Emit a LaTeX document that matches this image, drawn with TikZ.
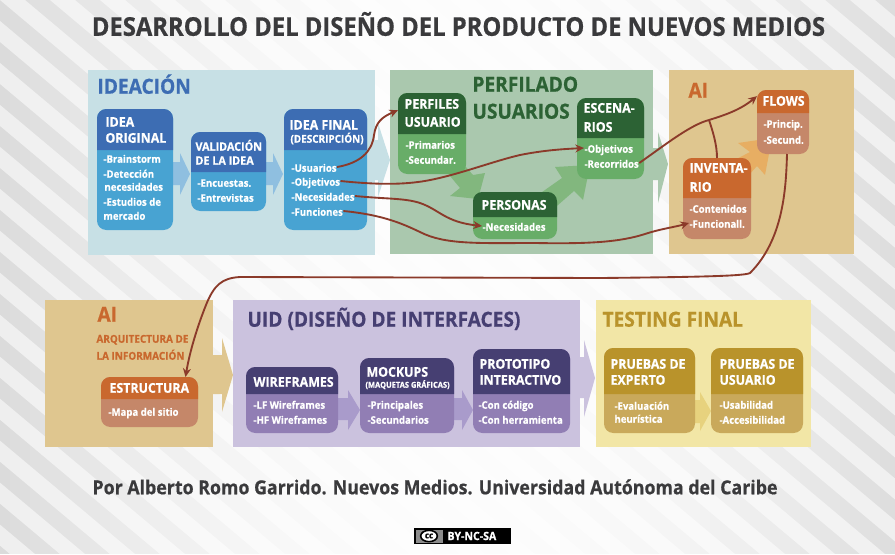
\documentclass[tikz,border=0pt]{standalone}
\usepackage{fontspec}
\setmainfont{Open Sans}[FakeStretch=0.92,BoldFeatures={FakeBold=0.6}]
\usetikzlibrary{arrows.meta,shapes.geometric}

\definecolor{ideaP}{RGB}{199,224,229}
\definecolor{ideaH}{RGB}{61,109,179}
\definecolor{ideaB}{RGB}{72,163,210}
\definecolor{ideaA}{RGB}{143,191,224}
\definecolor{perfP}{RGB}{170,200,174}
\definecolor{perfH}{RGB}{44,98,52}
\definecolor{perfB}{RGB}{104,173,104}
\definecolor{perfA}{RGB}{130,183,126}
\definecolor{aiP}{RGB}{223,198,143}
\definecolor{aiH}{RGB}{201,104,46}
\definecolor{aiB}{RGB}{197,135,105}
\definecolor{aiA}{RGB}{231,174,99}
\definecolor{uidP}{RGB}{203,194,222}
\definecolor{uidH}{RGB}{70,63,114}
\definecolor{uidB}{RGB}{145,126,180}
\definecolor{uidA}{RGB}{169,155,203}
\definecolor{testP}{RGB}{242,230,166}
\definecolor{testH}{RGB}{185,147,43}
\definecolor{testB}{RGB}{201,169,91}
\definecolor{testA}{RGB}{231,210,126}
\definecolor{linkcol}{RGB}{139,58,42}
\definecolor{inkcol}{RGB}{58,58,60}

\tikzset{every picture/.style={line width=0.75pt}}
\tikzset{
  bigtxt/.style={anchor=west,inner sep=0pt,text height=0.71em,text depth=0pt,font=\fontsize{15.6}{17}\selectfont\bfseries},
  headtxt/.style={anchor=west,inner sep=0pt,text height=0.71em,text depth=0pt,text=white,font=\fontsize{10.1}{12}\selectfont\bfseries},
  smalltxt/.style={anchor=west,inner sep=0pt,text height=0.71em,text depth=0pt,text=white,font=\fontsize{8.1}{10}\selectfont\bfseries},
  itemtxt/.style={anchor=west,inner sep=0pt,text height=0.71em,text depth=0pt,text=white,font=\fontsize{7.8}{9}\selectfont\bfseries},
  cardbody/.style={inner sep=0pt,outer sep=0pt,rounded corners=7pt},
  link/.style={draw=linkcol,line width=1.4pt,-{Stealth[length=6.5pt,width=6pt]}},
  linkplain/.style={draw=linkcol,line width=1.4pt}
}
% name, x, y, w, h, head h, colours
\newcommand{\card}[7]{%
  \node (#1) [cardbody,fill=#7B,minimum width=#4*0.75pt,minimum height=#5*0.75pt] at ({#2+#4/2},{#3+#5/2}) {};
  \node (#1h) [inner sep=0pt,outer sep=0pt,minimum width=#4*0.75pt,minimum height=#6*0.75pt,anchor=north] at (#1.north) {};
  \fill [#7H] (#1h.south west) [rounded corners=7pt] -- (#1h.north west) -- (#1h.north east) [sharp corners] -- (#1h.south east) -- cycle;
}

\begin{document}
\begin{tikzpicture}[x=0.75pt,y=0.75pt,yscale=-1,xscale=1]
\useasboundingbox (0,0) rectangle (895,554);

%Background with stripes
\begin{scope}
\clip (0,0) rectangle (895,554);
\foreach \k in {0,...,89} {
  \pgfmathsetmacro{\tono}{1+13*(abs(\k-45)/45)^2}
  \fill [black!\tono] (\k*10,0) rectangle (\k*10+11,554);
}
\foreach \i in {-700,-650,...,900} {
  \fill [white,fill opacity=0.55] (\i,0) -- (\i+25,0) -- (\i+685,554) -- (\i+660,554) -- cycle;
}
\end{scope}

%Panels
\fill [ideaP] (88,70) rectangle (375,255);
\fill [perfP] (390,70) rectangle (653,254);
\fill [aiP] (669,70) rectangle (854,254);
\fill [aiP] (45,300) rectangle (213,447);
\fill [uidP] (233,300) rectangle (580,447);
\fill [testP] (596,300) rectangle (811,447);

%Block arrows between panels
\fill [ideaP] (375,140) -- (378,140) -- (378,123) -- (390,160) -- (378,197) -- (378,180) -- (375,180) -- cycle;
\fill [perfP] (653,148) -- (658,148) -- (658,132) -- (668,164) -- (658,203) -- (658,180) -- (653,180) -- cycle;
\fill [aiP] (213,355) -- (222,355) -- (222,338) -- (233,375) -- (222,412) -- (222,394) -- (213,394) -- cycle;
\fill [uidP] (580,357) -- (584,357) -- (584,340) -- (595,378) -- (584,417) -- (584,398) -- (580,398) -- cycle;

%Block arrows inside panels
\fill [ideaA] (173,162) -- (180,162) -- (180,153) -- (190,174) -- (180,195) -- (180,185) -- (173,185) -- cycle;
\fill [ideaA] (266,162) -- (273,162) -- (273,153) -- (283,174) -- (273,195) -- (273,185) -- (266,185) -- cycle;
\fill [perfA] (458,158) -- (473,175) -- (485,173) -- (478,199) -- (450,196) -- (460,188) -- (445,170) -- cycle;
\fill [perfA] (535,197) -- (562,178) -- (555,167) -- (590,165) -- (583,200) -- (574,191) -- (550,212) -- cycle;
\fill [aiA] (725,165) -- (750,152) -- (738,143) -- (772,138) -- (765,175) -- (757,166) -- (740,185) -- cycle;
\fill [uidA] (338,398) -- (348,398) -- (348,390) -- (360,410) -- (348,430) -- (348,420) -- (338,420) -- cycle;
\fill [uidA] (454,398) -- (462,398) -- (462,390) -- (473,410) -- (462,430) -- (462,420) -- (454,420) -- cycle;
\fill [testA] (695,400) -- (700,400) -- (700,392) -- (711,411) -- (700,431) -- (700,423) -- (695,423) -- cycle;

%Cards
\card{original}{97}{109}{76}{121}{41}{idea}
\card{validacion}{191}{132}{75}{79}{40}{idea}
\card{final}{284}{109}{83}{121}{41}{idea}
\card{perfiles}{398}{93}{68}{81}{41}{perf}
\card{personas}{473}{192}{84}{47}{25}{perf}
\card{escenarios}{577}{98}{67}{81}{40}{perf}
\card{flows}{757}{90}{52}{64}{23}{ai}
\card{inventario}{683}{158}{68}{81}{40}{ai}
\card{estructura}{101}{377}{97}{50}{22}{ai}
\card{wire}{246}{367}{92}{66}{27}{uid}
\card{mockups}{360}{358}{94}{75}{36}{uid}
\card{prototipo}{473}{349}{97}{84}{45}{uid}
\card{experto}{604}{348}{91}{85}{46}{test}
\card{usuario}{711}{348}{92}{85}{46}{test}

% Text Node
\draw (458.5,24) node (titulo) [anchor=center,inner sep=0pt,text=inkcol,font=\fontsize{19.4}{22}\selectfont\bfseries] {DESARROLLO DEL DISEÑO DEL PRODUCTO DE NUEVOS MEDIOS};
\draw (92,487) node (autor) [anchor=west,inner sep=0pt,text=inkcol,font=\fontsize{14.5}{17}\selectfont\bfseries] {Por Alberto Romo Garrido. Nuevos Medios. Universidad Autónoma del Caribe};

% Text Node
\draw (97,89) node (tideacion) [bigtxt,text=ideaH] {IDEACIÓN};
\draw (472,87) node (tperfilado) [bigtxt,text=perfH] {PERFILADO};
\draw (472,114) node (tusuarios) [bigtxt,text=perfH] {USUARIOS};
\draw (688,93) node (tai) [bigtxt,text=aiH] {AI};
\draw (97,317) node (taib) [bigtxt,text=aiH] {AI};
\draw (96,338) node (tarq) [smalltxt,text=aiH] {ARQUITECTURA DE};
\draw (96,355) node (tinfo) [smalltxt,text=aiH] {LA INFORMACIÓN};
\draw (247,322) node (tuid) [bigtxt,text=uidH] {UID (DISEÑO DE INTERFACES)};
\draw (602,322) node (ttesting) [bigtxt,text=testH] {TESTING FINAL};

% Text Node
\draw (105,122) node (ho1) [headtxt] {IDEA};
\draw (105,138) node (ho2) [headtxt] {ORIGINAL};
\draw (103,158) node (brain) [itemtxt] {-Brainstorm};
\draw (103,173) node (deteccion) [itemtxt] {-Detección};
\draw (104,186) node (detecneces) [itemtxt] {necesidades};
\draw (103,201) node (estudios) [itemtxt] {-Estudios de};
\draw (103,215) node (mercado) [itemtxt] {mercado};

\draw (195,146) node (hv1) [headtxt,font=\fontsize{8.8}{10}\selectfont\bfseries] {VALIDACIÓN};
\draw (195,160) node (hv2) [headtxt,font=\fontsize{8.8}{10}\selectfont\bfseries] {DE LA IDEA};
\draw (197,182) node (encuestas) [itemtxt] {-Encuestas.};
\draw (197,197) node (entrevistas) [itemtxt] {-Entrevistas};

\draw (289,125) node (hf1) [headtxt] {IDEA FINAL};
\draw (290,138) node (hf2) [smalltxt] {(DESCRIPCIÓN)};
\draw (291,167) node (usuarios) [itemtxt] {-Usuarios};
\draw (291,181) node (objetivos) [itemtxt] {-Objetivos};
\draw (291,196) node (necesidades) [itemtxt] {-Necesidades};
\draw (291,211) node (funciones) [itemtxt] {-Funciones};

\draw (404,104) node (hp1) [headtxt] {PERFILES};
\draw (404,122) node (hp2) [headtxt] {USUARIO};
\draw (405,144) node (primarios) [itemtxt] {-Primarios};
\draw (405,159) node (secundar) [itemtxt] {-Secundar.};

\draw (481,205) node (hpe) [headtxt] {PERSONAS};
\draw (482,226) node (pernecesidades) [itemtxt] {-Necesidades};

\draw (583,108) node (he1) [headtxt] {ESCENA-};
\draw (583,127) node (he2) [headtxt] {RIOS};
\draw (584,148) node (escobjetivos) [itemtxt] {-Objetivos};
\draw (584,163) node (recorridos) [itemtxt] {-Recorridos};

\draw (762,101) node (hfl) [headtxt] {FLOWS};
\draw (763,123) node (princip) [itemtxt] {-Princip.};
\draw (763,139) node (secund) [itemtxt] {-Secund.};

\draw (689,168) node (hi1) [headtxt] {INVENTA-};
\draw (689,187) node (hi2) [headtxt] {RIO};
\draw (689,208) node (contenidos) [itemtxt] {-Contenidos};
\draw (689,223) node (funcionall) [itemtxt] {-Funcionall.};

\draw (109,388) node (hes) [headtxt] {ESTRUCTURA};
\draw (108,411) node (mapa) [itemtxt] {-Mapa del sitio};

\draw (253,382) node (hw) [headtxt] {WIREFRAMES};
\draw (253,404) node (lfw) [itemtxt] {-LF Wireframes};
\draw (253,419) node (hfw) [itemtxt] {-HF Wireframes};

\draw (366,372) node (hm1) [headtxt] {MOCKUPS};
\draw (365,383) node (hm2) [smalltxt,font=\fontsize{6.1}{7}\selectfont\bfseries] {(MAQUETAS GRÁFICAS)};
\draw (367,404) node (principales) [itemtxt] {-Principales};
\draw (367,419) node (secundarios) [itemtxt] {-Secundarios};

\draw (479,364) node (hpr1) [headtxt] {PROTOTIPO};
\draw (479,380) node (hpr2) [headtxt] {INTERACTIVO};
\draw (478,404) node (concodigo) [itemtxt] {-Con código};
\draw (478,419) node (conherr) [itemtxt] {-Con herramienta};

\draw (610,364) node (hx1) [headtxt] {PRUEBAS DE};
\draw (610,380) node (hx2) [headtxt] {EXPERTO};
\draw (614,405) node (evaluacion) [itemtxt] {-Evaluación};
\draw (614,418) node (heuristica) [itemtxt] {heurística};

\draw (719,364) node (hu1) [headtxt] {PRUEBAS DE};
\draw (719,380) node (hu2) [headtxt] {USUARIO};
\draw (719,404) node (usabilidad) [itemtxt] {-Usabilidad};
\draw (719,419) node (accesibilidad) [itemtxt] {-Accesibilidad};

%Connectors
\coordinate (cruce) at (709,120);
\draw [link] (usuarios.east) .. controls (360,163) and (372,152) .. (374,135) .. controls (376,122) and (382,117) .. ([yshift=-2.5pt]perfilesh.west);
\draw [link] (objetivos.east) .. controls (370,184) and (395,185) .. (418,182) .. controls (450,178) and (490,162) .. (520,155) .. controls (545,150) and (565,149) .. (escobjetivos.west);
\draw [link] (necesidades.east) .. controls (385,199) and (405,198) .. (420,203) .. controls (440,210) and (445,222) .. (pernecesidades.west);
\draw [link] (funciones.east) .. controls (385,215) and (405,225) .. (420,232) .. controls (445,245) and (480,243) .. (535,243) .. controls (590,244) and (620,242) .. (645,234) .. controls (660,229) and (675,227) .. (funcionall.west);
\draw [link] (recorridos.east) .. controls (665,145) and (690,125) .. (cruce) .. controls (725,115) and (740,110) .. ([yshift=-4pt]flowsh.west);
\draw [linkplain] (inventario.north) .. controls (717,145) and (713,132) .. (cruce);
\draw [link] ([xshift=3pt]flows.south) .. controls (786,190) and (783,240) .. (750,273) .. controls (745,276) and (700,277) .. (600,278) -- (240,277) .. controls (222,278) and (214,285) .. (206,305) .. controls (198,325) and (190,350) .. ([xshift=27pt]estructura.north);

%Licence badge
\node (badge) [fill=black,inner sep=0pt,minimum width=97*0.75pt,minimum height=16*0.75pt] at (462,536) {};
\fill [black!45] (415.5,529.5) rectangle (443,542.5);
\node (cclogo) [ellipse,draw=black,fill=white,line width=1.2pt,inner sep=0pt,minimum width=12.5pt,minimum height=8.5pt,font=\fontsize{6.5}{6.5}\selectfont\bfseries] at (429,536) {cc};
\node (licencia) [anchor=west,inner sep=0pt,text=white,font=\fontsize{8.6}{9}\selectfont\bfseries] at (447,536) {BY-NC-SA};

\end{tikzpicture}
\end{document}
